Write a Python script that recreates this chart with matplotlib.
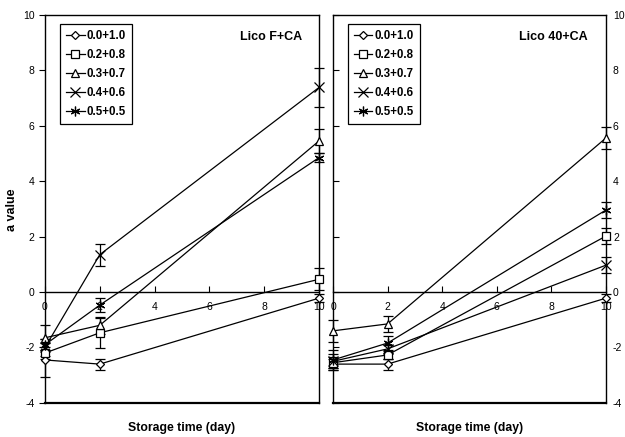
import matplotlib.pyplot as plt

days = [0, 2, 10]
labels = ['0.0+1.0', '0.2+0.8', '0.3+0.7', '0.4+0.6', '0.5+0.5']
markers = ['D', 's', '^', 'x', (6, 2, 0)]
msizes = [4.5, 5.5, 5.5, 6.5, 7]

# Lico F+CA
f_vals = [[-2.45, -2.6, -0.22],
          [-2.2, -1.47, 0.46],
          [-1.65, -1.2, 5.45],
          [-2.0, 1.35, 7.38],
          [-1.9, -0.47, 4.85]]
f_err = [[0.6, 0.2, 0.15],
         [0.2, 0.55, 0.4],
         [0.45, 0.3, 0.45],
         [0.3, 0.4, 0.7],
         [0.2, 0.25, 0.15]]

# Lico 40+CA
c_vals = [[-2.6, -2.6, -0.22],
          [-2.55, -2.27, 2.02],
          [-1.4, -1.15, 5.56],
          [-2.5, -2.05, 0.97],
          [-2.45, -1.84, 2.96]]
c_err = [[0.2, 0.2, 0.15],
         [0.2, 0.15, 0.3],
         [0.4, 0.3, 0.4],
         [0.25, 0.15, 0.3],
         [0.35, 0.25, 0.3]]

plt.rcParams['font.family'] = 'Liberation Sans'
plt.rcParams['axes.unicode_minus'] = False

fig = plt.figure(figsize=(6.25, 4.37), dpi=100)
ax1 = fig.add_axes([0.072, 0.078, 0.4384, 0.888])
ax2 = fig.add_axes([0.5328, 0.078, 0.4368, 0.888])


def draw_panel(ax, vals, errs, title, title_x):
    handles = []
    for i in range(len(labels)):
        ax.errorbar(days, vals[i], yerr=errs[i], fmt='none', ecolor='black',
                    elinewidth=0.9, capsize=3.5, capthick=0.9, zorder=3, clip_on=False)
        h, = ax.plot(days, vals[i], color='black', lw=0.9, marker=markers[i],
                     markersize=msizes[i], markerfacecolor='white',
                     markeredgecolor='black', markeredgewidth=0.9,
                     zorder=4, clip_on=False, label=labels[i])
        handles.append(h)
    ax.set_xlim(0, 10)
    ax.set_ylim(-4, 10)
    ax.set_xticks([0, 2, 4, 6, 8, 10])
    ax.set_yticks([-4, -2, 0, 2, 4, 6, 8, 10])
    ax.spines['bottom'].set_position(('data', 0))
    for s in ax.spines.values():
        s.set_linewidth(1.0)
    ax.axhline(-4, color='black', lw=1.6, clip_on=False)
    ax.tick_params(axis='x', direction='in', length=4, width=0.8, labelsize=7.5, pad=7)
    ax.tick_params(axis='y', labelsize=7.5)
    ax.text(title_x, 0.943, title, transform=ax.transAxes, ha='right', va='center',
            fontsize=9, fontweight='bold')
    leg = ax.legend(handles=handles, loc='upper left', bbox_to_anchor=(0.056, 0.977),
                    frameon=True, fancybox=False, edgecolor='black', framealpha=1,
                    prop={'weight': 'bold', 'size': 8.3}, handlelength=1.6,
                    handletextpad=0.2, labelspacing=0.62, borderpad=0.5,
                    borderaxespad=0)
    leg.get_frame().set_linewidth(0.9)
    ax.text(0.5, -0.064, 'Storage time (day)', transform=ax.transAxes,
            ha='center', va='center', fontsize=8.8, fontweight='bold')


draw_panel(ax1, f_vals, f_err, 'Lico F+CA', 0.94)
draw_panel(ax2, c_vals, c_err, 'Lico 40+CA', 0.934)

ax1.tick_params(axis='y', direction='out', length=4, width=0.8)
ax1.text(-0.121, 0.497, 'a value', transform=ax1.transAxes, rotation=90,
         ha='center', va='center', fontsize=9, fontweight='bold')

ax2.tick_params(axis='y', direction='in', length=4, width=0.8, left=True, right=False,
                labelleft=False, labelright=True, pad=5)

plt.savefig('out.png', dpi=100)
